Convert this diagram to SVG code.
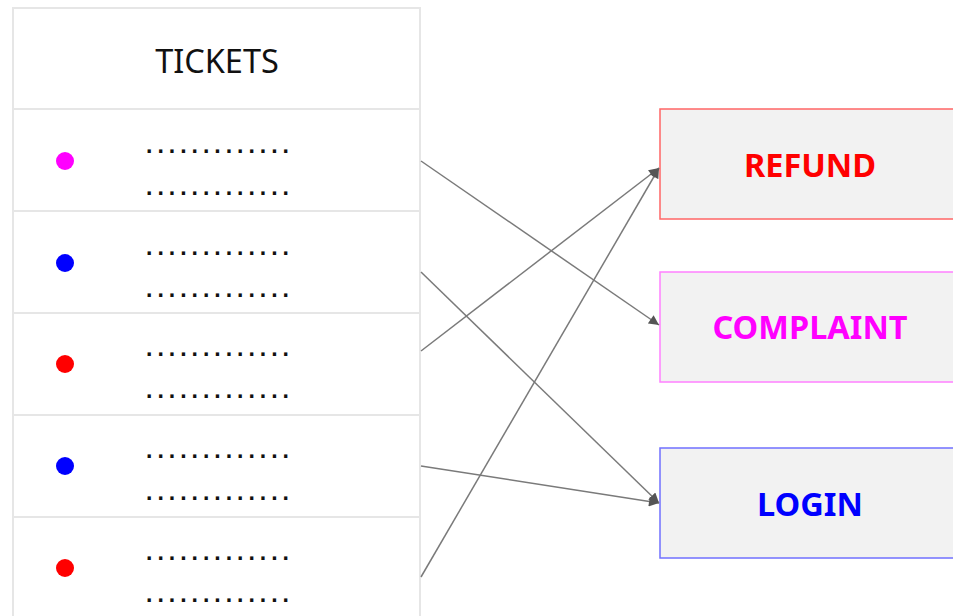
<svg xmlns="http://www.w3.org/2000/svg" width="953" height="616" viewBox="0 0 953 616">
<defs>
<style>
.tbl{fill:#ffffff;stroke:#e6e6e6;stroke-width:2}
.div{stroke:#e6e6e6;stroke-width:2}
.hdr{font-family:"Noto Sans","Open Sans",sans-serif;font-size:32.5px;fill:#111;text-anchor:middle}
.dots{font-family:"Liberation Sans",sans-serif;font-size:23px;font-weight:bold;fill:#111}
.box{fill:#f2f2f2;stroke-width:1.5}
.lbl{font-family:"Noto Sans","Open Sans",sans-serif;font-size:32.5px;font-weight:bold;text-anchor:middle}
.conn{stroke:#7a7a7a;stroke-width:1.5;fill:none;marker-end:url(#arr)}
</style>
<marker id="arr" viewBox="0 0 10 10" refX="10" refY="5" markerWidth="11" markerHeight="10" markerUnits="userSpaceOnUse" orient="auto">
<path d="M0,0 L10,5 L0,10 z" fill="#555555"/>
</marker>
</defs>
<rect width="953" height="616" fill="#ffffff"/>
<g id="tickets">
<rect class="tbl" x="13" y="8" width="407" height="620"/>
<line class="div" x1="13" y1="109" x2="420" y2="109"/>
<line class="div" x1="13" y1="211" x2="420" y2="211"/>
<line class="div" x1="13" y1="313" x2="420" y2="313"/>
<line class="div" x1="13" y1="415" x2="420" y2="415"/>
<line class="div" x1="13" y1="517" x2="420" y2="517"/>
<text class="hdr" x="217" y="73">TICKETS</text>
</g>
<g id="row1">
<circle cx="65" cy="161" r="9" fill="#ff00ff"/>
<text class="dots" x="146" y="153" textLength="143" lengthAdjust="spacing">.............</text>
<text class="dots" x="146" y="195" textLength="143" lengthAdjust="spacing">.............</text>
</g>
<g id="row2">
<circle cx="65" cy="263" r="9" fill="#0000ff"/>
<text class="dots" x="146" y="255" textLength="143" lengthAdjust="spacing">.............</text>
<text class="dots" x="146" y="297" textLength="143" lengthAdjust="spacing">.............</text>
</g>
<g id="row3">
<circle cx="65" cy="364" r="9" fill="#ff0000"/>
<text class="dots" x="146" y="356" textLength="143" lengthAdjust="spacing">.............</text>
<text class="dots" x="146" y="398" textLength="143" lengthAdjust="spacing">.............</text>
</g>
<g id="row4">
<circle cx="65" cy="466" r="9" fill="#0000ff"/>
<text class="dots" x="146" y="458" textLength="143" lengthAdjust="spacing">.............</text>
<text class="dots" x="146" y="500" textLength="143" lengthAdjust="spacing">.............</text>
</g>
<g id="row5">
<circle cx="65" cy="568" r="9" fill="#ff0000"/>
<text class="dots" x="146" y="560" textLength="143" lengthAdjust="spacing">.............</text>
<text class="dots" x="146" y="602" textLength="143" lengthAdjust="spacing">.............</text>
</g>
<g id="refund">
<rect class="box" x="660" y="109" width="310" height="110" stroke="#ff6666"/>
<text class="lbl" x="810" y="177" fill="#ff0000">REFUND</text>
</g>
<g id="complaint">
<rect class="box" x="660" y="272" width="310" height="110" stroke="#ff80ff"/>
<text class="lbl" x="810" y="339" fill="#ff00ff">COMPLAINT</text>
</g>
<g id="login">
<rect class="box" x="660" y="448" width="310" height="110" stroke="#7070ff"/>
<text class="lbl" x="810" y="516" fill="#0000ff">LOGIN</text>
</g>
<g id="connectors">
<line class="conn" x1="421" y1="161" x2="659" y2="325"/>
<line class="conn" x1="421" y1="272" x2="659" y2="503"/>
<line class="conn" x1="421" y1="351" x2="659" y2="168"/>
<line class="conn" x1="421" y1="466" x2="659" y2="503"/>
<line class="conn" x1="421" y1="577" x2="659" y2="168"/>
</g>
</svg>
